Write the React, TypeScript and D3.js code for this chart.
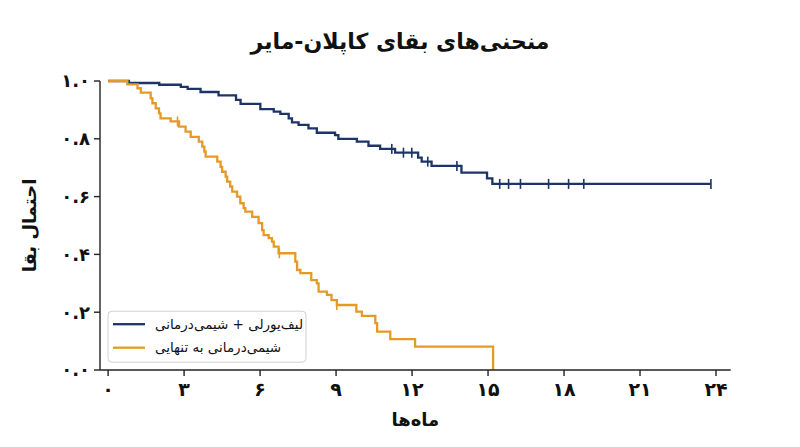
import { useMemo } from "react";
import * as d3 from "d3";

const WIDTH = 800;
const HEIGHT = 447;
const MARGIN = { top: 81, right: 69.3, bottom: 77, left: 100 };

const FONT = "'DejaVu Sans', 'Noto Sans', sans-serif";
const BLUE = "#1d3466";
const ORANGE = "#e59a27";

const TITLE = "منحنی‌های بقای کاپلان-مایر";
const X_LABEL = "ماه‌ها";
const Y_LABEL = "احتمال بقا";
const SERIES_NAMES = ["لیف‌یورلی + شیمی‌درمانی", "شیمی‌درمانی به تنهایی"];

const X_TICKS = [0, 3, 6, 9, 12, 15, 18, 21, 24];
const Y_TICKS = [0, 0.2, 0.4, 0.6, 0.8, 1.0];

// combination arm: step times (months) and survival after each step
const comboTimes = [0, 0.82, 2.02, 2.87, 3.14, 3.65, 4.36, 5.05, 5.23, 6.01, 6.54, 6.8, 7.13, 7.26, 7.52, 7.91, 8.24, 8.96, 9.09, 9.82, 10.28, 10.74, 11.33, 12.24, 12.38, 12.77, 13.95, 14.96, 15.17, 23.8];
const comboSurv = [1, 0.993, 0.987, 0.98, 0.973, 0.962, 0.95, 0.935, 0.921, 0.903, 0.894, 0.886, 0.871, 0.857, 0.848, 0.836, 0.821, 0.813, 0.8, 0.79, 0.776, 0.765, 0.752, 0.735, 0.721, 0.706, 0.683, 0.663, 0.644, 0.644];
const comboCensor = [11.2, 11.66, 11.99, 12.62, 13.77, 15.46, 15.81, 16.28, 17.39, 18.18, 18.78, 23.8];

// chemo alone arm
const chemoTimes = [0, 0.76, 1.16, 1.29, 1.68, 1.75, 1.88, 2.01, 2.07, 2.47, 2.8, 3.06, 3.26, 3.58, 3.72, 3.8, 3.85, 4.31, 4.44, 4.5, 4.64, 4.7, 4.82, 4.9, 5.09, 5.22, 5.35, 5.42, 5.69, 5.94, 6.08, 6.14, 6.34, 6.47, 6.54, 6.73, 7.39, 7.46, 7.59, 8.02, 8.24, 8.31, 8.64, 8.82, 9.03, 9.8, 10.02, 10.55, 10.62, 11.14, 12.12, 15.2];
const chemoSurv = [1, 0.988, 0.975, 0.96, 0.94, 0.923, 0.905, 0.888, 0.871, 0.86, 0.842, 0.825, 0.807, 0.79, 0.773, 0.756, 0.738, 0.721, 0.703, 0.686, 0.669, 0.652, 0.635, 0.617, 0.6, 0.577, 0.56, 0.548, 0.53, 0.508, 0.484, 0.467, 0.456, 0.444, 0.427, 0.404, 0.375, 0.346, 0.335, 0.311, 0.3, 0.271, 0.26, 0.242, 0.225, 0.202, 0.187, 0.162, 0.133, 0.107, 0.081, 0];
const chemoCensor = [2.74, 6.76, 9.03];

const toFa = (s: string) => s.replace(/[0-9]/g, (d) => "۰۱۲۳۴۵۶۷۸۹"[+d]);

export default function App() {
    const boundsWidth = WIDTH - MARGIN.left - MARGIN.right;
    const boundsHeight = HEIGHT - MARGIN.top - MARGIN.bottom;

    const xScale = useMemo(
        () => d3.scaleLinear().domain([-0.32, 24.58]).range([0, boundsWidth]),
        [boundsWidth]
    );
    const yScale = useMemo(
        () => d3.scaleLinear().domain([0, 1]).range([boundsHeight, 0]),
        [boundsHeight]
    );

    const line = d3
        .line<[number, number]>()
        .x((d) => xScale(d[0]))
        .y((d) => yScale(d[1]))
        .curve(d3.curveStepAfter);

    const series = [
        { name: SERIES_NAMES[0], color: BLUE, times: comboTimes, surv: comboSurv, censor: comboCensor },
        { name: SERIES_NAMES[1], color: ORANGE, times: chemoTimes, surv: chemoSurv, censor: chemoCensor },
    ];

    // survival value at time t (step function)
    const survAt = (times: number[], surv: number[], t: number) => {
        let v = surv[0];
        times.forEach((tt, i) => {
            if (tt <= t) v = surv[i];
        });
        return v;
    };

    return (
        <div style={{ position: "fixed", left: 0, top: 0 }}>
            <svg width={WIDTH} height={HEIGHT} style={{ display: "block", background: "#fff" }} fontFamily={FONT}>
                <text x={400} y={49} textAnchor="middle" fontSize={22} fontWeight="bold" fill="#111">
                    {TITLE}
                </text>

                <g transform={`translate(${MARGIN.left},${MARGIN.top})`}>
                    {series.map((s) => (
                        <g key={s.name}>
                            <path
                                d={line(s.times.map((t, i) => [t, s.surv[i]] as [number, number])) || ""}
                                fill="none"
                                stroke={s.color}
                                strokeWidth={2.3}
                            />
                            {s.censor.map((c, i) => {
                                const cx = xScale(c);
                                const cy = yScale(survAt(s.times, s.surv, c));
                                return (
                                    <line key={i} x1={cx} x2={cx} y1={cy - 5} y2={cy + 5} stroke={s.color} strokeWidth={1.6} />
                                );
                            })}
                        </g>
                    ))}

                    {/* spines */}
                    <line x1={0} x2={0} y1={0} y2={boundsHeight} stroke="#222" strokeWidth={1.4} />
                    <line x1={0} x2={boundsWidth} y1={boundsHeight} y2={boundsHeight} stroke="#222" strokeWidth={1.4} />

                    {Y_TICKS.map((t) => (
                        <g key={t} transform={`translate(0,${yScale(t)})`}>
                            <line x1={-6} x2={0} stroke="#222" strokeWidth={1.4} />
                            <text x={-10} dy="0.35em" textAnchor="end" fontSize={18} fontWeight="bold" fill="#111">
                                {toFa(t.toFixed(1))}
                            </text>
                        </g>
                    ))}

                    {X_TICKS.map((t) => (
                        <g key={t} transform={`translate(${xScale(t)},${boundsHeight})`}>
                            <line y1={0} y2={6} stroke="#222" strokeWidth={1.4} />
                            <text y={26} textAnchor="middle" fontSize={19} fontWeight="bold" fill="#111">
                                {toFa(String(t))}
                            </text>
                        </g>
                    ))}

                    <text x={boundsWidth / 2} y={boundsHeight + 56} textAnchor="middle" fontSize={18} fontWeight="bold" fill="#111">
                        {X_LABEL}
                    </text>
                    <text
                        transform={`translate(${-64},${boundsHeight / 2}) rotate(-90)`}
                        textAnchor="middle"
                        fontSize={18}
                        fontWeight="bold"
                        fill="#111"
                    >
                        {Y_LABEL}
                    </text>

                    {/* legend */}
                    <g transform={`translate(8,${yScale(0.2) - 1})`}>
                        <rect width={198} height={51} rx={4} fill="#fff" fillOpacity={0.85} stroke="#d0d0d0" />
                        {series.map((s, i) => (
                            <g key={s.name} transform={`translate(0,${13 + i * 23.5})`}>
                                <line x1={5} x2={37} stroke={s.color} strokeWidth={2.3} />
                                <text x={47} dy="0.35em" fontSize={13.5} fill="#111">
                                    {s.name}
                                </text>
                            </g>
                        ))}
                    </g>
                </g>
            </svg>
        </div>
    );
}
